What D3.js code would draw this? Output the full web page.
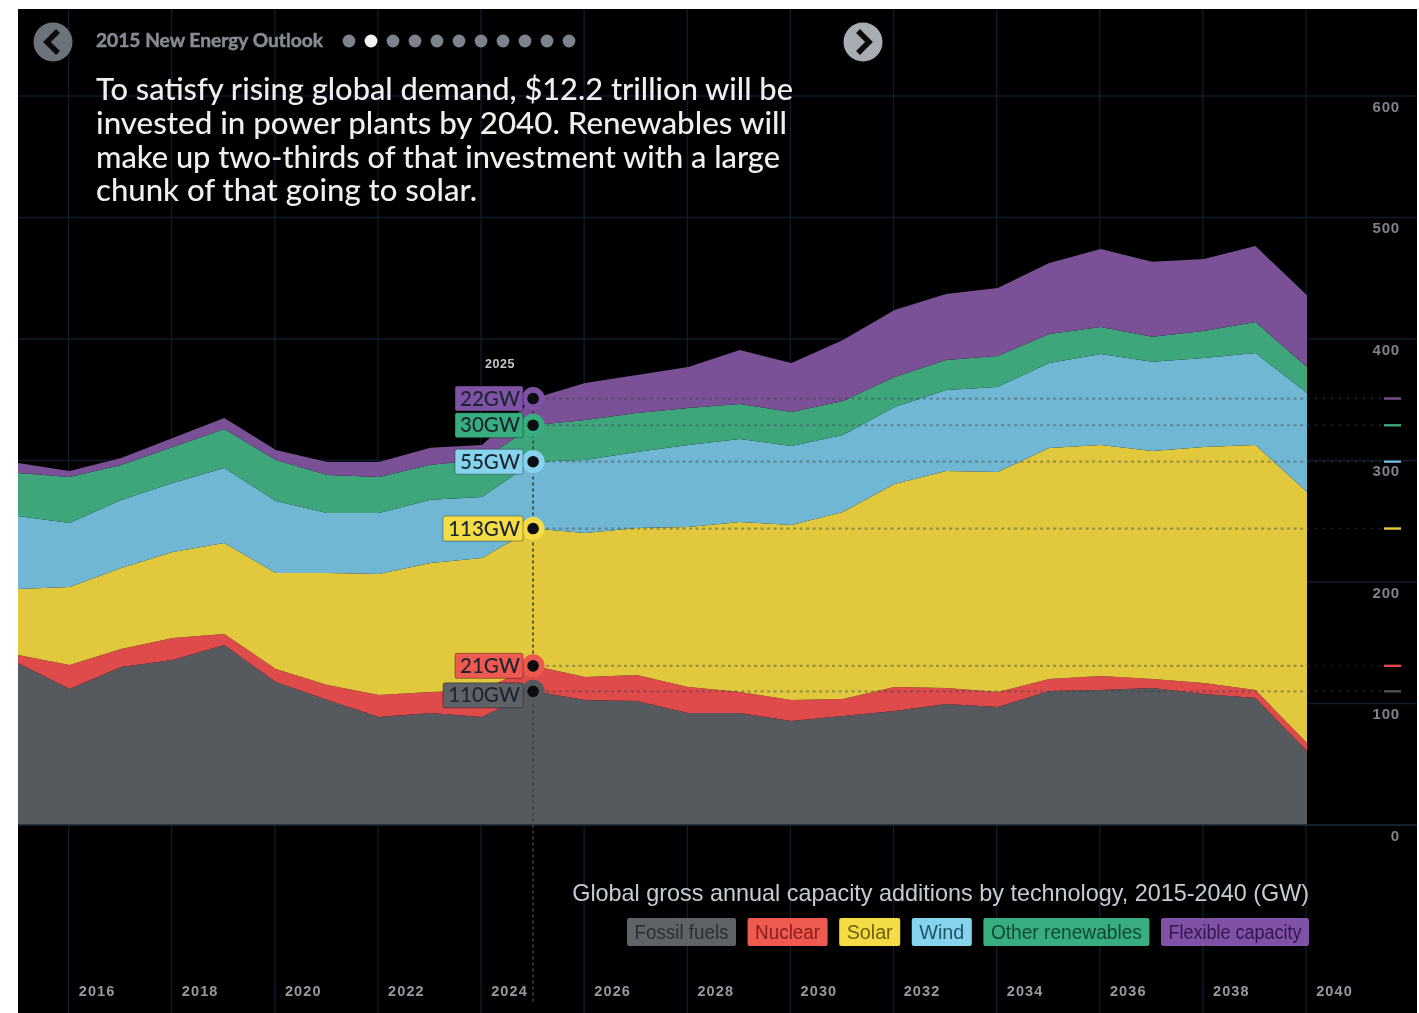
<!DOCTYPE html>
<html>
<head>
<meta charset="utf-8">
<script src="https://cdnjs.cloudflare.com/ajax/libs/d3/7.8.5/d3.min.js"></script>
<style>
html,body{margin:0;padding:0;background:#fff;overflow:hidden}
svg{display:block;filter:blur(0.7px)}
</style>
</head>
<body>
<svg id="chart" width="1419" height="1013"></svg>
<script>
const years = [2015,2016,2017,2018,2019,2020,2021,2022,2023,2024,2025,2026,2027,2028,2029,2030,2031,2032,2033,2034,2035,2036,2037,2038,2039,2040];
const fossil = [133.3,111.9,130,135.8,148.1,117.7,102.9,88.9,92.2,88.9,110,102.9,102,92.2,92.2,85.6,89.7,93.8,99.6,97.1,110.3,111.1,112.8,107.8,104.5,60.9];
const nuclear = [6.6,19.8,14.8,18.1,9.1,10.7,12.3,18.1,17.3,22.2,21,18.9,21.4,21.4,17.3,17.3,14,19.8,13.2,12.3,9.9,11.5,7.4,9.1,6.6,6.6];
const solar = [54.3,64.2,66.7,70.8,74.9,79,92.2,99.6,106.2,108.6,113,118.5,121,131.7,139.9,144,153.9,167.1,178.6,181.1,190.1,190.1,187.7,194.2,201.6,206.6];
const wind = [60.1,52.7,56,56.8,61.7,59.3,49.4,50.2,51.9,50.2,55,60.1,62.6,67.5,68.3,65,63.4,63.4,66.7,70,70,74.9,73.3,73.3,75.7,81.5];
const otherRenewables = [35.4,37.9,28.8,29.6,32.1,33.7,31.3,29.6,28.8,30.5,30,32.9,32.1,30.5,28.8,28,28,24.7,24.7,25.5,23.9,22.2,20.6,22.2,25.5,21.4];
const flexible = [8.2,4.9,5.8,7.4,9.1,8.2,10.7,12.3,14,12.3,22,30.5,31.3,33.7,44.4,40.3,50.2,55.1,54.3,56,58.4,64.2,61.7,59.3,62.6,59];

const seriesNames = ["Fossil fuels","Nuclear","Solar","Wind","Other renewables","Flexible capacity"];
const areaColors = ["#565a5e","#df4a4a","#e2c83c","#70b7d3","#3fa67c","#7a5096"];
const badgeColors = ["#5f6367","#ee5a50","#f4dc46","#86d3ee","#37ad80","#7f52a6"];
const legendText = ["#2b2e31","#8a1d1d","#6e5e08","#1c5468","#0d4a33","#33164f"];
const yTicks = [0,100,200,300,400,500,600];
const xTickYears = [2016,2018,2020,2022,2024,2026,2028,2030,2032,2034,2036,2038,2040];
const focusYear = 2025;
const headerText = "2015 New Energy Outlook";
const storyLines = ["To satisfy rising global demand, $12.2 trillion will be","invested in power plants by 2040. Renewables will","make up two-thirds of that investment with a large","chunk of that going to solar."];
const chartTitle = "Global gross annual capacity additions by technology, 2015-2040 (GW)";
const pagerDots = [0,1,2,3,4,5,6,7,8,9,10];
const activeDot = 1;

const allSeries = [fossil,nuclear,solar,wind,otherRenewables,flexible];
const table = years.map((yr,i)=>{const r={year:yr};seriesNames.forEach((n,k)=>r[n]=allSeries[k][i]);return r;});

const L=18,R=1417,T=9,B=1013;
const x = d3.scaleLinear().domain([2015,2040]).range([18,1307]);
const y = d3.scaleLinear().domain([0,600]).range([825,96]);
const svg = d3.select("#chart");
const sans = "'Liberation Sans',Arial,sans-serif";
const lato = "Lato,'Open Sans',sans-serif";

svg.append("rect").attr("x",L).attr("y",T).attr("width",R-L).attr("height",B-T).attr("fill","#000");

// grid
const grid = svg.append("g").attr("stroke","#101b2c").attr("stroke-width",1.4);
grid.selectAll("line.v").data(xTickYears).join("line").attr("class","v")
  .attr("x1",d=>x(d)-1).attr("x2",d=>x(d)-1).attr("y1",T).attr("y2",B);
grid.selectAll("line.h").data(yTicks).join("line").attr("class","h")
  .attr("x1",L).attr("x2",R).attr("y1",d=>y(d)).attr("y2",d=>y(d));

// areas
const stack = d3.stack().keys(seriesNames);
const stacked = stack(table);
const area = d3.area().x(d=>x(d.data.year)).y0(d=>y(d[0])).y1(d=>y(d[1])).curve(d3.curveLinear);
svg.append("g").selectAll("path").data(stacked).join("path")
  .attr("d",area).attr("fill",(d,i)=>areaColors[i]);

// baseline
svg.append("line").attr("x1",L).attr("x2",R).attr("y1",y(0)).attr("y2",y(0)).attr("stroke","#1a2331").attr("stroke-width",1.5);

// axes
const xAxis = d3.axisBottom(x).tickValues(xTickYears).tickFormat(d3.format("d")).tickSize(0);
const gx = svg.append("g").attr("transform","translate(0,987)").call(xAxis);
gx.select(".domain").remove();
gx.selectAll("text").attr("dx",27).attr("dy",0).attr("y",9).attr("font-family",sans).attr("font-weight","700").attr("font-size",14.5).attr("letter-spacing",1.1).attr("fill","#959aa1");

const yAxis = d3.axisLeft(y).tickValues(yTicks).tickFormat(d3.format("d")).tickSize(0);
const gy = svg.append("g").attr("transform","translate(1400,0)").call(yAxis);
gy.select(".domain").remove();
gy.selectAll("text").attr("x",0).attr("dy",15).attr("font-family",sans).attr("font-weight","700").attr("font-size",15).attr("letter-spacing",0.8).attr("fill","#7e838a");

// focus guide
const fi = years.indexOf(focusYear);
const fx = x(focusYear)-0.5;
const top5 = stacked[5][fi][1];
svg.append("line").attr("x1",fx).attr("x2",fx).attr("y1",y(top5)).attr("y2",1002)
  .attr("stroke","#3a3d40").attr("stroke-width",1.6).attr("stroke-dasharray","3 3");

const fg = svg.append("g");
stacked.forEach((s,i)=>{
  const ly = y(s[fi][1]);
  fg.append("line").attr("x1",fx).attr("x2",x(2040)).attr("y1",ly).attr("y2",ly)
    .attr("stroke","rgba(60,66,72,0.42)").attr("stroke-width",2.2).attr("stroke-dasharray","3 3.5");
  fg.append("line").attr("x1",x(2040)).attr("x2",1384).attr("y1",ly).attr("y2",ly)
    .attr("stroke","#23272d").attr("stroke-width",1.4).attr("stroke-dasharray","2 6");
  fg.append("line").attr("x1",1384).attr("x2",1401).attr("y1",ly).attr("y2",ly)
    .attr("stroke",i===0?"#4d5156":areaColors[i]).attr("stroke-width",2.4);
});

// call-outs
const badgeOffsets = [4,0,0,0,0,0];
const badgeWide = [80,68,80,68,68,68];
stacked.forEach((s,i)=>{
  const ly = y(s[fi][1]);
  const by = ly + badgeOffsets[i];
  const v = allSeries[i][fi];
  fg.append("circle").attr("cx",fx).attr("cy",ly).attr("r",11.5).attr("fill",i===0?areaColors[0]:badgeColors[i]);
  fg.append("circle").attr("cx",fx).attr("cy",ly).attr("r",5.8).attr("fill","#0b0d10");
  fg.append("rect").attr("x",523-badgeWide[i]).attr("y",by-12.5).attr("width",badgeWide[i]).attr("height",25).attr("rx",2)
    .attr("fill",badgeColors[i]).attr("stroke","rgba(0,0,0,0.35)");
  fg.append("text").attr("x",520).attr("y",by+7).attr("text-anchor","end")
    .attr("font-family",lato).attr("font-weight","500").attr("font-size",20.5).attr("fill","#1c2530")
    .text(Math.round(v)+"GW");
});
svg.append("text").attr("x",500).attr("y",368).attr("text-anchor","middle").attr("font-family",sans)
  .attr("font-weight","700").attr("font-size",12.5).attr("letter-spacing",0.5).attr("fill","#c3c7cc").text(focusYear);

// header
const nav = svg.append("g");
[[53,"#6d737b",-1],[863,"#a8adb3",1]].forEach(([cx,col,dir])=>{
  nav.append("circle").attr("cx",cx).attr("cy",42).attr("r",19.5).attr("fill",col);
  nav.append("path").attr("d",`M${cx-dir*5},31 L${cx+dir*6},42 L${cx-dir*5},53`)
    .attr("fill","none").attr("stroke","#0a0a0c").attr("stroke-width",5.5);
});
svg.append("text").attr("x",96).attr("y",47).attr("font-family",lato).attr("font-weight","700").attr("font-size",19)
  .attr("fill","#868b93").attr("stroke","#868b93").attr("stroke-width",0.5)
  .attr("textLength",227).attr("lengthAdjust","spacingAndGlyphs").text(headerText);
const dotX = d3.scalePoint().domain(pagerDots).range([349,569]);
svg.append("g").selectAll("circle").data(pagerDots).join("circle")
  .attr("cx",d=>dotX(d)).attr("cy",41).attr("r",6.4).attr("fill",d=>d===activeDot?"#f4f5f6":"#7c838c");
const storyWidths = [697,691,684,381];
svg.append("g").selectAll("text").data(storyLines).join("text")
  .attr("x",96).attr("y",(d,i)=>100+i*33.8).attr("font-family",lato).attr("font-weight","500").attr("font-size",31)
  .attr("textLength",(d,i)=>storyWidths[i]).attr("lengthAdjust","spacingAndGlyphs")
  .attr("fill","#eeeff0").text(d=>d);

// title + legend
svg.append("text").attr("x",1309).attr("y",901).attr("text-anchor","end").attr("font-family",sans).attr("font-size",23.4)
  .attr("fill","#c6ccd4").text(chartTitle);
const legendWidths = [109,80,61,60,166,148];
const lg = svg.append("g");
let rightEdge = 1309;
for (let i=seriesNames.length-1;i>=0;i--){
  const bw = legendWidths[i];
  const bx = rightEdge-bw;
  lg.append("rect").attr("x",bx).attr("y",918).attr("width",bw).attr("height",28).attr("rx",2).attr("fill",badgeColors[i]);
  lg.append("text").attr("x",bx+7.5).attr("y",938.5).attr("font-family",sans).attr("font-size",19.5)
    .attr("textLength",bw-15).attr("lengthAdjust","spacingAndGlyphs")
    .attr("fill",legendText[i]).text(seriesNames[i]);
  rightEdge = bx-11.6;
}
</script>
</body>
</html>
